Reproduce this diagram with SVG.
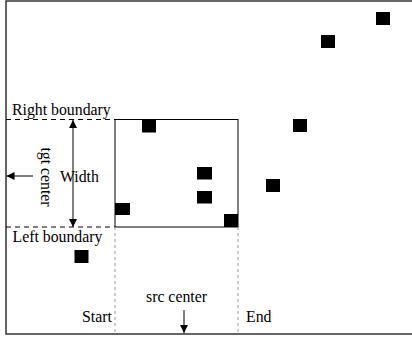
<svg xmlns="http://www.w3.org/2000/svg" width="412" height="339" viewBox="0 0 412 339">
<defs>
<style>
text{font-family:"Liberation Serif","Times New Roman",serif;font-size:15.8px;fill:#000}
.frame{fill:none;stroke:#333;stroke-width:1.5}
.box{fill:none;stroke:#000;stroke-width:1}
.dash{fill:none;stroke:#000;stroke-width:1;stroke-dasharray:5,4}
.dot{fill:none;stroke:#999;stroke-width:1;stroke-dasharray:3,3}
.arr{fill:none;stroke:#000;stroke-width:1}
.sq{fill:#000}
</style>
<marker id="ah" viewBox="0 0 10 10" refX="10" refY="5" markerWidth="8" markerHeight="8" markerUnits="userSpaceOnUse" orient="auto-start-reverse">
<path d="M0,0 L10,5 L0,10 z" fill="#000"/>
</marker>
</defs>
<rect width="412" height="339" fill="#fff"/>
<g id="frame">
<path class="frame" d="M412,1 H6 V334 H412"/>
</g>
<g id="window">
<rect class="box" x="115" y="119.5" width="123" height="107.5"/>
</g>
<g id="squares">
<rect class="sq" x="376" y="12" width="14" height="13"/>
<rect class="sq" x="321" y="35" width="14" height="13"/>
<rect class="sq" x="293" y="119" width="14" height="13"/>
<rect class="sq" x="266" y="179" width="14" height="13"/>
<rect class="sq" x="142" y="119.5" width="14" height="13"/>
<rect class="sq" x="197" y="167" width="15" height="12.5"/>
<rect class="sq" x="197" y="191" width="15" height="12.5"/>
<rect class="sq" x="115" y="203" width="15" height="12"/>
<rect class="sq" x="224" y="214" width="14" height="13"/>
<rect class="sq" x="74.5" y="250" width="14" height="13"/>
</g>
<g id="connectors">
<line class="dash" x1="6" y1="119.5" x2="115" y2="119.5"/>
<line class="dash" x1="6" y1="227" x2="115" y2="227"/>
<line class="dot" x1="115" y1="227" x2="115" y2="334"/>
<line class="dot" x1="238" y1="227" x2="238" y2="334"/>
<line class="arr" x1="73" y1="120" x2="73" y2="227" marker-start="url(#ah)" marker-end="url(#ah)"/>
<line class="arr" x1="33" y1="176" x2="6.5" y2="176" marker-end="url(#ah)"/>
<line class="arr" x1="184" y1="310" x2="184" y2="333" marker-end="url(#ah)"/>
</g>
<g id="labels">
<text x="12" y="115">Right boundary</text>
<text x="12.5" y="242">Left boundary</text>
<text x="60" y="182">Width</text>
<text transform="translate(41,177) rotate(90)" text-anchor="middle">tgt center</text>
<text x="146" y="302">src center</text>
<text x="82" y="322">Start</text>
<text x="246" y="322">End</text>
</g>
</svg>
